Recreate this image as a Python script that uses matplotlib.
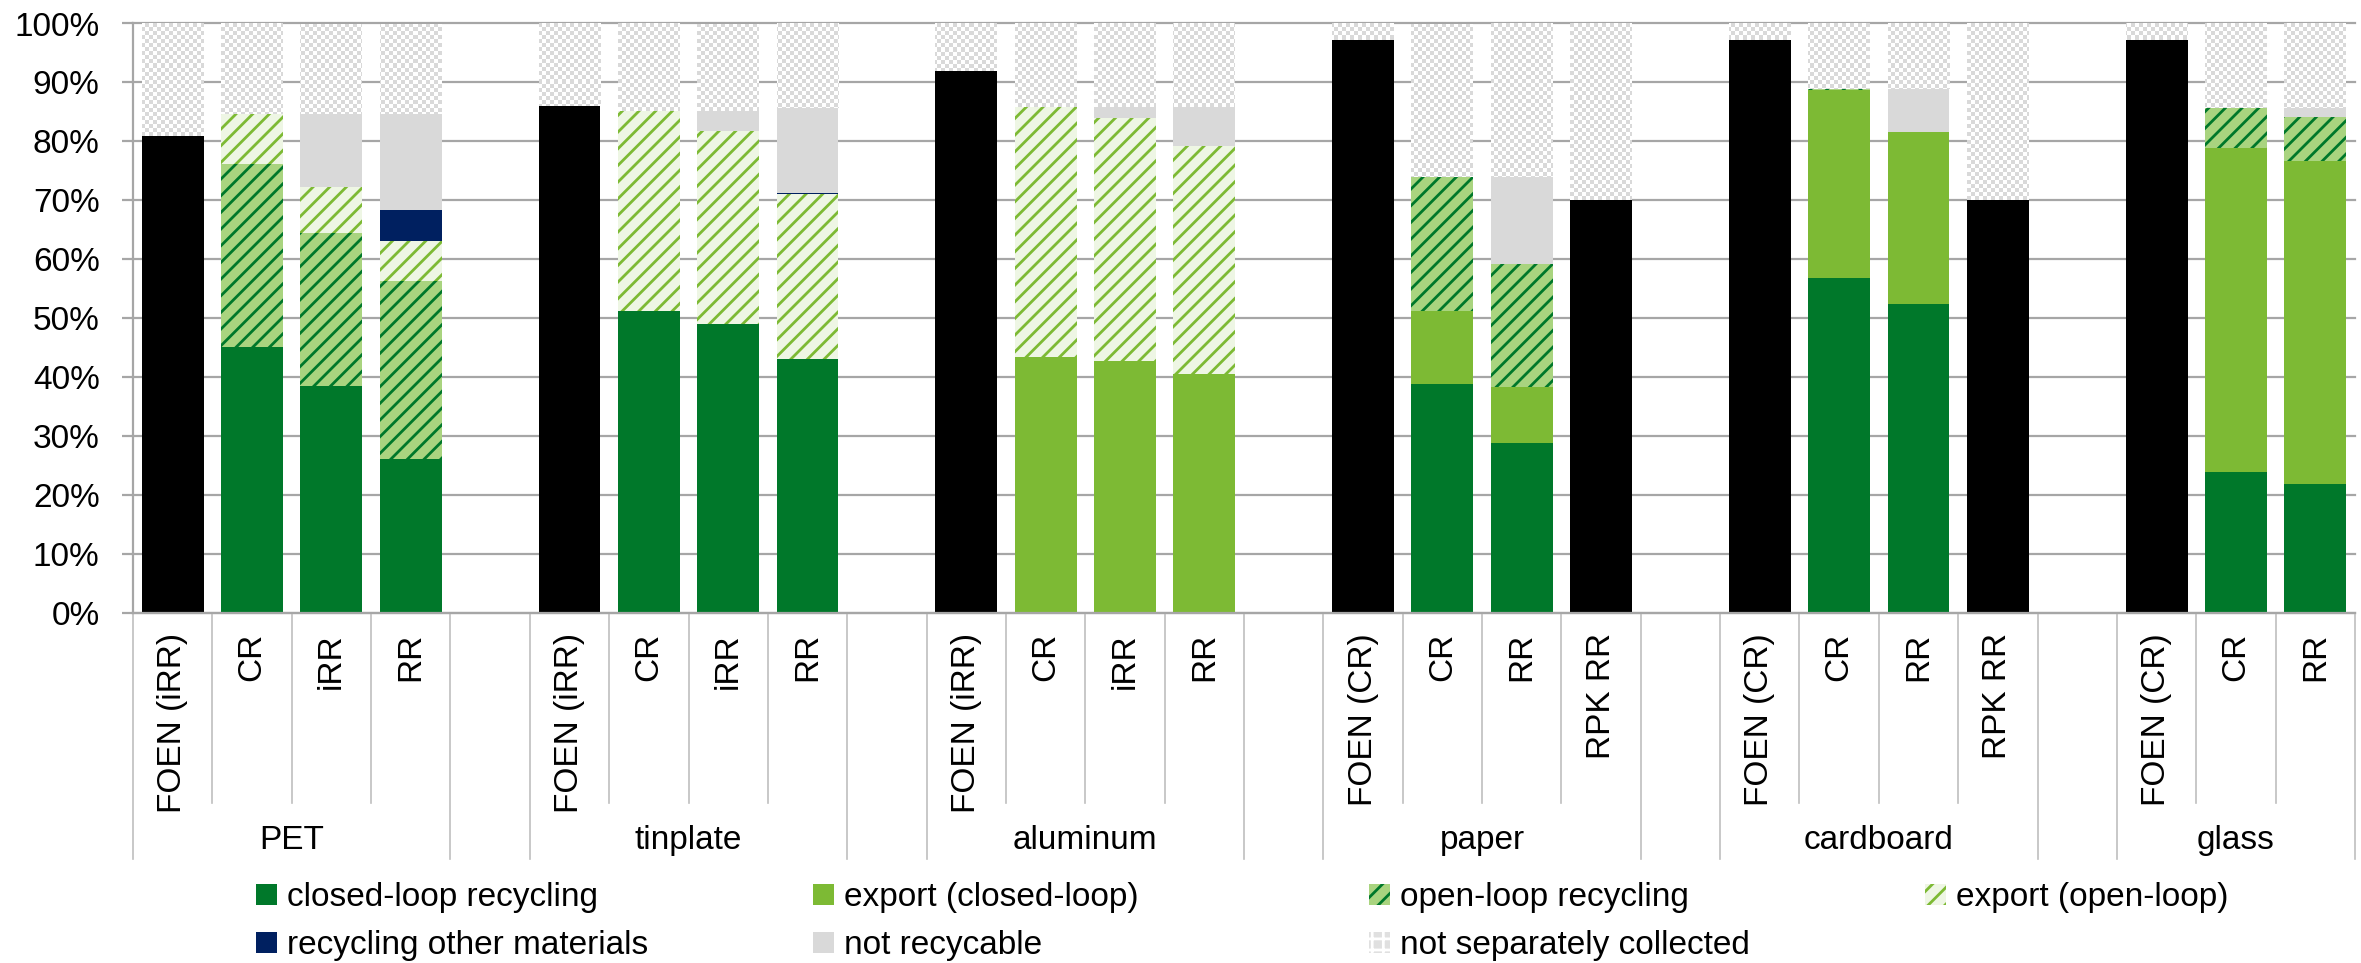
import numpy as np
import matplotlib
matplotlib.use("Agg")
import matplotlib.pyplot as plt
from matplotlib.patches import Patch
from matplotlib.colors import ListedColormap
from matplotlib.ticker import MultipleLocator, PercentFormatter
import matplotlib.transforms as mtransforms

plt.rcParams['font.family'] = ['Liberation Sans', 'DejaVu Sans']
plt.rcParams['hatch.linewidth'] = 1.0

groups = ['PET', 'tinplate', 'aluminum', 'paper', 'cardboard', 'glass']
bar_names = [
    ['FOEN (iRR)', 'CR', 'iRR', 'RR'],
    ['FOEN (iRR)', 'CR', 'iRR', 'RR'],
    ['FOEN (iRR)', 'CR', 'iRR', 'RR'],
    ['FOEN (CR)', 'CR', 'RR', 'RPK RR'],
    ['FOEN (CR)', 'CR', 'RR', 'RPK RR'],
    ['FOEN (CR)', 'CR', 'RR'],
]

# shares in %, one value per bar (PET..glass), stacked bottom to top
foen           = [81.0, 0, 0, 0,     86.0, 0, 0, 0,     92.0, 0, 0, 0,     97.2, 0, 0, 70.1, 97.2, 0, 0, 70.1, 97.2, 0, 0]
closed_loop    = [0, 45.2, 38.5, 26.1, 0, 51.2, 49.1, 43.1, 0, 0, 0, 0,     0, 38.8, 28.9, 0, 0, 56.9, 52.4, 0, 0, 23.9, 21.9]
export_closed  = [0, 0, 0, 0,        0, 0, 0, 0,        0, 43.4, 42.7, 40.5, 0, 12.4, 9.5, 0, 0, 31.8, 29.2, 0, 0, 54.9, 54.8]
open_loop      = [0, 30.9, 25.9, 30.3, 0, 0, 0, 0,      0, 0, 0, 0,        0, 22.7, 20.8, 0, 0, 0.2, 0, 0,  0, 6.8, 7.4]
export_open    = [0, 8.6, 7.9, 6.7,   0, 33.9, 32.6, 27.9, 0, 42.4, 41.3, 38.8, 0, 0, 0, 0, 0, 0, 0, 0,   0, 0, 0]
other_material = [0, 0, 0, 5.2,      0, 0, 0, 0.2,      0, 0, 0, 0,        0, 0, 0, 0,      0, 0, 0, 0,   0, 0, 0]
not_recyclable = [0, 0, 12.4, 16.4,   0, 0, 3.4, 14.4,   0, 0, 1.8, 6.5,    0, 0, 14.7, 0,   0, 0, 7.3, 0, 0, 0, 1.5]

dark_green = '#00782A'
light_green = '#7DBA34'

series = [
    (foen, dict(color='black'), None),
    (closed_loop, dict(color=dark_green), 'closed-loop recycling'),
    (export_closed, dict(color=light_green), 'export (closed-loop)'),
    (open_loop, dict(facecolor='#A9D47F', edgecolor=dark_green, hatch='////'), 'open-loop recycling'),
    (export_open, dict(facecolor='#EEF6E4', edgecolor=light_green, hatch='////'), 'export (open-loop)'),
    (other_material, dict(color='#002060'), 'recycling other materials'),
    (not_recyclable, dict(color='#D9D9D9'), 'not recycable'),
]

# slot positions: bars of one material side by side, one empty slot between materials
x_pos = []
spans = []
slot = 0
for names in bar_names:
    start = slot
    x_pos += list(range(slot, slot + len(names)))
    slot += len(names)
    spans.append((start - 0.5, slot - 0.5))
    slot += 1
n_slots = slot - 1
labels = [n for names in bar_names for n in names]

W, H, DPI = 2361, 963, 200
fig = plt.figure(figsize=(W / DPI, H / DPI), dpi=DPI)
left, right, top, bottom_ = 133 / W, 2355 / W, 1 - 23.5 / H, 1 - 613 / H
ax = fig.add_axes([left, bottom_, right - left, top - bottom_])

width = 0.78
bottom = np.zeros(len(x_pos))
for vals, style, lab in series:
    vals = np.array(vals, dtype=float)
    ax.bar(x_pos, vals, bottom=bottom, width=width, linewidth=0, **style)
    bottom += vals

# not separately collected: remainder up to 100 %, checkerboard fill
nsc = 100 - bottom
nsc_bars = ax.bar(x_pos, nsc, bottom=bottom, width=width, color='none', linewidth=0)
ax_w_px = (right - left) * W
ax_h_px = (top - bottom_) * H
ny, nx = int(ax_h_px / 4), int(ax_w_px / 4)
checker = np.add.outer(np.arange(ny), np.arange(nx)) % 2
checker_cmap = ListedColormap(['white', '#D9D9D9'])
for rect in nsc_bars:
    im = ax.imshow(checker, cmap=checker_cmap, origin='lower',
                   extent=(-0.5, n_slots - 0.5, 0, 100), aspect='auto',
                   interpolation='nearest', zorder=2)
    im.set_clip_path(rect)

ax.set_xlim(-0.5, n_slots - 0.5)
ax.set_ylim(0, 100)
ax.yaxis.set_major_locator(MultipleLocator(10))
ax.yaxis.set_major_formatter(PercentFormatter(decimals=0))
ax.set_xticks([])
ax.set_axisbelow(True)
ax.grid(axis='y', color='#A6A6A6', linewidth=0.8)
for gl in ax.get_ygridlines():
    gl.set_clip_on(False)
for s in ['top', 'right']:
    ax.spines[s].set_visible(False)
for s in ['left', 'bottom']:
    ax.spines[s].set_color('#A6A6A6')
    ax.spines[s].set_linewidth(0.8)
ax.tick_params(axis='y', length=4, width=0.8, color='#A6A6A6', pad=8, labelsize=12)

# two-level category axis below the bars
trans = mtransforms.blended_transform_factory(ax.transData, fig.transFigure)
y_axis = bottom_
y_short = 1 - 803 / H
y_tall = 1 - 859 / H
for x, name in zip(x_pos, labels):
    ax.text(x, 1 - 633 / H, name, transform=trans, rotation=90, ha='center', va='top',
            fontsize=12)
for (a, b), g in zip(spans, groups):
    ax.text((a + b) / 2, 1 - 840 / H, g, transform=trans, ha='center', va='center', fontsize=12)
    for xs in (a, b):
        ax.plot([xs, xs], [y_axis, y_tall], transform=trans, color='#BFBFBF', lw=0.6, clip_on=False)
    for xs in np.arange(a + 1, b):
        ax.plot([xs, xs], [y_axis, y_short], transform=trans, color='#BFBFBF', lw=0.6, clip_on=False)

# legend, laid out in four columns
handles = {lab: Patch(linewidth=0, **style) for vals, style, lab in series if lab}
handles['not separately collected'] = Patch(facecolor='#E0E0E0', edgecolor='white', hatch='+++', linewidth=0)
columns = [
    ['closed-loop recycling', 'recycling other materials'],
    ['export (closed-loop)', 'not recycable'],
    ['open-loop recycling', 'not separately collected'],
    ['export (open-loop)'],
]
col_x = [256, 813, 1369, 1925]
for cx, col in zip(col_x, columns):
    fig.legend([handles[c] for c in col], col, loc='upper left',
               bbox_to_anchor=(cx / W, 1 - 882 / H), frameon=False, fontsize=12,
               borderpad=0, borderaxespad=0, handlelength=0.64, handleheight=0.6,
               handletextpad=0.3, labelspacing=0.52)

fig.savefig('out.png', dpi=DPI)
